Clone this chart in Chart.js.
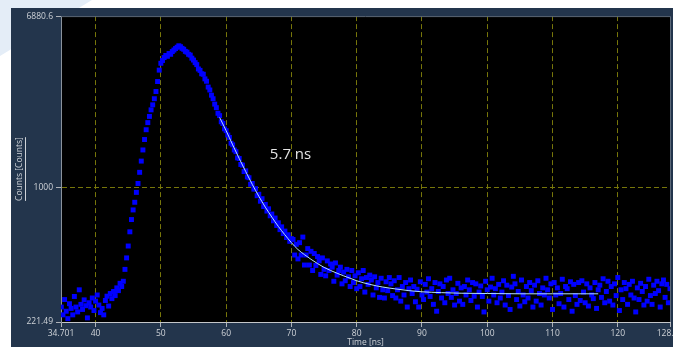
<!DOCTYPE html>
<html>
<head>
<meta charset="utf-8">
<script src="https://cdn.jsdelivr.net/npm/chart.js@4.4.1/dist/chart.umd.min.js"></script>
<style>
  html, body { margin: 0; padding: 0; background: #ffffff; overflow: hidden; width: 673px; height: 347px; }
  #deco { position: absolute; left: 0; top: 0; width: 120px; height: 80px; background: #e4edf7;
          clip-path: polygon(0 0, 92px 0, 0 56px); }
  #panel { position: absolute; left: 11px; top: 8px; width: 662px; height: 339px; overflow: hidden; background: #23354c; }
  #DecayChart { position: absolute; left: 0; top: 0; }
</style>
</head>
<body>
<div id="deco"></div>
<div id="panel"><canvas id="DecayChart" width="700" height="339"></canvas></div>
<script>
// Decay histogram, one value per 0.25 ns channel starting at 34.75 ns.
const channelStart = 34.75;
const channelWidth = 0.25;

// Before the pulse (34.75 - 43.75 ns)
const preCounts = [262, 240, 285, 250, 230, 272, 258, 240, 295, 262, 248, 318, 270, 255, 284, 266, 232, 275, 262, 290,
    252, 280, 300, 268, 246, 258, 240, 282, 296, 265, 305, 288, 312, 298, 325, 315, 342];
// Rising edge (44.0 - 52.75 ns)
const riseCounts = [330, 350, 400, 455, 520, 610, 700, 780, 850, 950, 1050, 1190, 1350, 1530, 1720, 1920, 2080, 2230,
    2400, 2540, 2720, 2950, 3300, 3750, 4050, 4180, 4320, 4420, 4380, 4520, 4480, 4620, 4700, 4780, 4850, 4930];
// Decay (53.0 - 70.0 ns)
const decayCounts = [4880, 4790, 4740, 4630, 4590, 4480, 4440, 4290, 4200, 4080, 3990, 3800, 3740, 3600, 3580, 3400,
    3310, 3100, 3000, 2830, 2720, 2560, 2460, 2310, 2250, 2100, 2060, 1940, 1900, 1810, 1760, 1650, 1620, 1530, 1500,
    1400, 1390, 1300, 1290, 1200, 1210, 1130, 1120, 1040, 1050, 985, 990, 915, 930, 860, 885, 810, 830, 770, 790, 730,
    745, 690, 712, 655, 675, 625, 645, 598, 615, 572, 590, 548, 565];
// Tail / background (70.25 - 128.0 ns)
const tailCounts = [560, 470, 530, 450, 540, 470, 575, 420, 470, 505, 420, 490, 395, 478, 418, 462, 440, 378, 455, 400,
    372, 440, 395, 425, 410, 350, 430, 375, 395, 410, 340, 388, 352, 400, 368, 330, 395, 345, 372, 322,
    385, 330, 360, 395, 310, 365, 338, 375, 355, 300, 368, 325, 345, 292, 362, 318, 290, 348, 315, 365,
    340, 298, 352, 290, 318, 365, 280, 330, 300, 345, 262, 322, 355, 305, 330, 278, 320, 262, 348, 300,
    285, 338, 310, 360, 295, 322, 270, 345, 250, 312, 340, 290, 330, 275, 355, 305, 362, 292, 318, 268,
    305, 342, 280, 325, 270, 330, 300, 355, 318, 282, 345, 296, 340, 262, 310, 332, 295, 248, 350, 318,
    280, 328, 362, 300, 322, 275, 338, 290, 310, 352, 268, 335, 298, 255, 328, 370, 340, 285, 312, 265,
    355, 300, 278, 330, 290, 345, 315, 262, 335, 280, 352, 305, 268, 325, 300, 362, 318, 290, 340, 255,
    345, 300, 325, 272, 305, 358, 262, 330, 322, 285, 348, 250, 338, 298, 270, 345, 282, 352, 310, 275,
    340, 265, 325, 300, 288, 345, 258, 318, 335, 292, 360, 275, 312, 350, 280, 330, 268, 340, 298, 365,
    252, 318, 285, 345, 322, 270, 338, 300, 350, 290, 248, 325, 285, 342, 312, 268, 330, 280, 358, 298,
    270, 335, 305, 350, 315, 262, 340, 355, 292, 338, 275, 322];

// Fitted decay curve (5.7 ns)
const fitTimes = [59, 60, 61, 62, 63, 64, 65, 66, 67, 68, 69, 70, 71, 72, 73, 74, 75, 76, 77, 78, 79, 80, 82, 84, 86,
    88, 90, 93, 96, 100, 105, 110, 117];
const fitCounts = [2204, 1900, 1620, 1390, 1200, 1040, 910, 805, 720, 648, 590, 540, 500, 472, 448, 427, 409, 395, 383,
    372, 362, 352, 338, 328, 321, 315, 311, 308, 306, 305, 304, 304, 304];

// Axes
const xMin = 34.701, xMax = 128.0;
const xTicks = [34.701, 40, 50, 60, 70, 80, 90, 100, 110, 120, 128.0];
const xTickLabels = ['34.701', '40', '50', '60', '70', '80', '90', '100', '110', '120', '128.00'];
const yMin = 221.49, yMax = 6880.6;
const yTicks = [221.49, 1000, 6880.6];
const yTickLabels = ['221.49', '1000', '6880.6'];
const xTitle = 'Time [ns]';
const yTitle = 'Counts [Counts]';

// Lifetime label, placed in data units
const lifetimeText = '5.7 ns';
const lifetimeAt = { x: 66.7, y: 1450 };

const allCounts = preCounts.concat(riseCounts, decayCounts, tailCounts);
const decayPoints = allCounts.map((c, i) => ({ x: channelStart + i * channelWidth, y: c }));
const fitPoints = fitTimes.map((t, i) => ({ x: t, y: fitCounts[i] }));

const labelColor = '#cfd3d8';
const tickFont = { family: "'Segoe UI', 'Open Sans', sans-serif", size: 8.5 };
const gridColor = '#77760a';

function innerGrid(ctx) {
    const n = ctx.scale.ticks.length;
    return (ctx.index === 0 || ctx.index === n - 1) ? 'rgba(0,0,0,0)' : gridColor;
}

// Black plot area
const plotBackground = {
    id: 'plotBackground',
    beforeDraw(chart) {
        const a = chart.chartArea;
        const c = chart.ctx;
        c.save();
        c.fillStyle = '#000000';
        c.fillRect(a.left, a.top, a.right - a.left, a.bottom - a.top);
        c.restore();
    }
};

// Frame, axis titles and lifetime label
const extras = {
    id: 'extras',
    afterDraw(chart) {
        const a = chart.chartArea;
        const c = chart.ctx;
        c.save();
        c.strokeStyle = '#5c6878';
        c.lineWidth = 1;
        c.beginPath();
        c.moveTo(a.left, a.top + 0.5);
        c.lineTo(a.right + 0.5, a.top + 0.5);
        c.lineTo(a.right + 0.5, a.bottom);
        c.stroke();

        c.fillStyle = labelColor;
        c.strokeStyle = labelColor;
        c.font = "8.5px 'Segoe UI', 'Open Sans', sans-serif";
        c.textAlign = 'center';
        c.textBaseline = 'middle';

        // y title, rotated and underlined
        const yMid = (a.top + a.bottom) / 2;
        c.save();
        c.translate(9, yMid);
        c.rotate(-Math.PI / 2);
        c.fillText(yTitle, 0, 0);
        let w = c.measureText(yTitle).width;
        c.beginPath();
        c.moveTo(-w / 2, 5.5);
        c.lineTo(w / 2, 5.5);
        c.stroke();
        c.restore();

        // x title
        const xMid = (a.left + a.right) / 2;
        c.fillText(xTitle, xMid, 335);
        w = c.measureText(xTitle).width;
        c.beginPath();
        c.moveTo(xMid - w / 2, 340.5);
        c.lineTo(xMid + w / 2, 340.5);
        c.stroke();

        // lifetime
        const px = chart.scales.x.getPixelForValue(lifetimeAt.x);
        const py = chart.scales.y.getPixelForValue(lifetimeAt.y);
        c.fillStyle = '#e4e4e4';
        c.font = "15px 'Segoe UI', 'Open Sans', sans-serif";
        c.textAlign = 'left';
        c.fillText(lifetimeText, px, py);
        c.restore();
    }
};

const ctx = document.getElementById('DecayChart').getContext('2d');
window.myChart = new Chart(ctx, {
    type: 'scatter',
    data: {
        datasets: [{
            label: 'Fit',
            type: 'line',
            data: fitPoints,
            borderColor: '#b4e0ff',
            borderWidth: 1,
            pointRadius: 0,
            cubicInterpolationMode: 'monotone',
            fill: false,
            order: 0
        }, {
            label: 'Counts',
            data: decayPoints,
            backgroundColor: '#0000ff',
            borderWidth: 0,
            pointStyle: 'rect',
            pointRadius: 3.5,
            order: 1
        }]
    },
    options: {
        responsive: false,
        animation: false,
        layout: { padding: { top: 7, right: 41, bottom: 0, left: 0 } },
        plugins: {
            legend: { display: false },
            tooltip: { enabled: false }
        },
        scales: {
            x: {
                type: 'linear',
                min: xMin,
                max: xMax,
                afterBuildTicks: scale => { scale.ticks = xTicks.map(v => ({ value: v })); },
                afterFit: scale => { scale.height = 25; },
                ticks: {
                    callback: (value, index) => xTickLabels[index],
                    color: labelColor,
                    font: tickFont,
                    padding: 1,
                    maxRotation: 0,
                    autoSkip: false
                },
                grid: {
                    color: innerGrid,
                    lineWidth: 1,
                    tickColor: '#aeb2b8',
                    tickLength: 5
                },
                border: { color: '#c4c6c9', width: 1, dash: [5, 3] }
            },
            y: {
                type: 'logarithmic',
                min: yMin,
                max: yMax,
                afterBuildTicks: scale => { scale.ticks = yTicks.map(v => ({ value: v })); },
                afterFit: scale => { scale.width = 50; },
                ticks: {
                    callback: (value, index) => yTickLabels[index],
                    color: labelColor,
                    font: tickFont,
                    padding: 3,
                    autoSkip: false
                },
                grid: {
                    color: innerGrid,
                    lineWidth: 1,
                    tickColor: '#aeb2b8',
                    tickLength: 5
                },
                border: { color: '#8a929c', width: 1, dash: [5, 3] }
            }
        }
    },
    plugins: [plotBackground, extras]
});
</script>
</body>
</html>
